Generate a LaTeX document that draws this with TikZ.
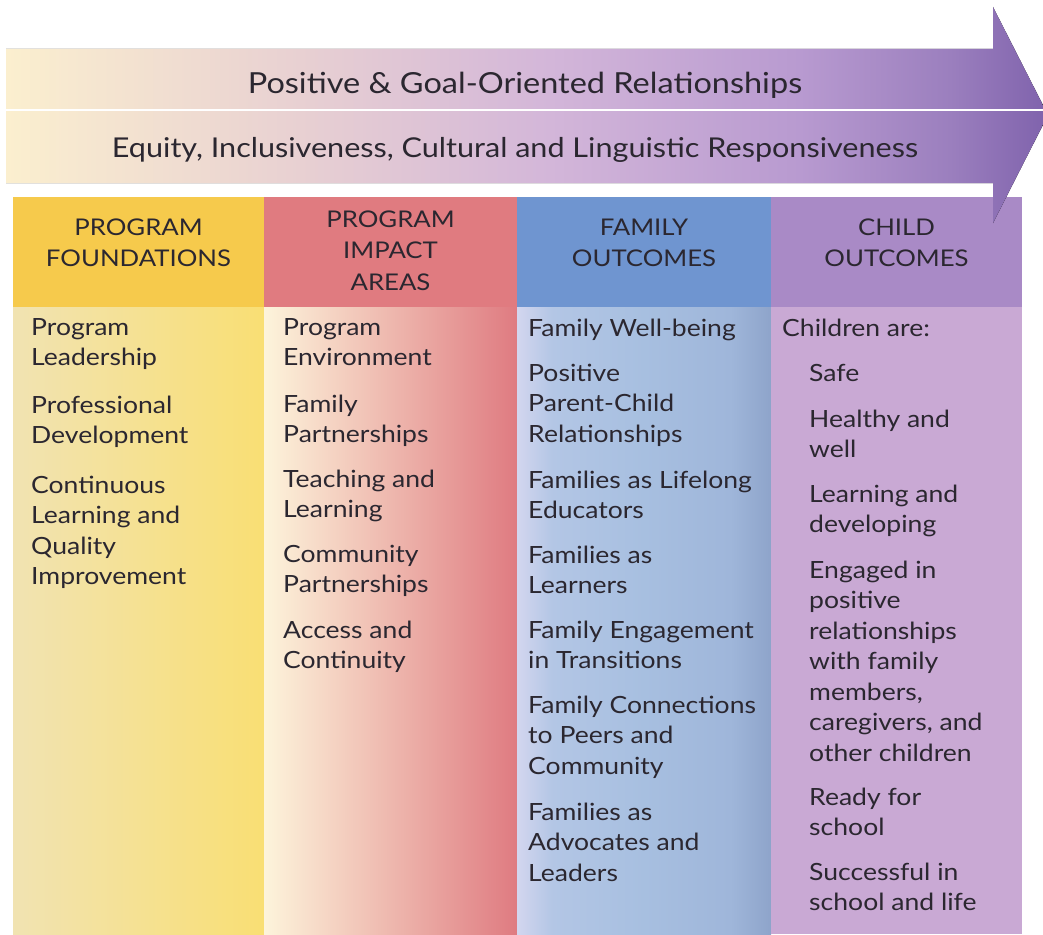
\documentclass[tikz,border=0pt]{standalone}
\usepackage{fontspec}
\setmainfont{Lato}[FakeStretch=1.12]

\definecolor{inkdark}{HTML}{2B2730}
\definecolor{arrowA}{HTML}{FBEFCF}
\definecolor{arrowB}{HTML}{E8D0D2}
\definecolor{arrowC}{HTML}{D3B6D9}
\definecolor{arrowD}{HTML}{B89AD0}
\definecolor{arrowE}{HTML}{9B7FBE}
\definecolor{arrowF}{HTML}{7F62AC}
\definecolor{headgold}{HTML}{F6CA4C}
\definecolor{headrose}{HTML}{E07B80}
\definecolor{headblue}{HTML}{6F95D0}
\definecolor{headlilac}{HTML}{A98AC6}
\definecolor{goldL}{HTML}{F1E3B2}
\definecolor{goldR}{HTML}{F9DF74}
\definecolor{roseL}{HTML}{FDF4DB}
\definecolor{roseM}{HTML}{EFC0B2}
\definecolor{roseR}{HTML}{DF7B81}
\definecolor{blueA}{HTML}{D3D6EF}
\definecolor{blueB}{HTML}{B3C6E5}
\definecolor{blueC}{HTML}{A7BFE0}
\definecolor{blueD}{HTML}{9FB6DA}
\definecolor{blueE}{HTML}{8EA4CA}
\definecolor{bodylilac}{HTML}{C9A9D4}

\pgfdeclarehorizontalshading{arrowfade}{100bp}{color(0bp)=(arrowA); color(25bp)=(arrowA);
  color(39.1bp)=(arrowB); color(51.1bp)=(arrowC); color(63.1bp)=(arrowD);
  color(70.3bp)=(arrowE); color(75bp)=(arrowF); color(100bp)=(arrowF)}
\pgfdeclarehorizontalshading{bluefade}{100bp}{color(0bp)=(blueA); color(25bp)=(blueA);
  color(32bp)=(blueB); color(50bp)=(blueC); color(67bp)=(blueD);
  color(75bp)=(blueE); color(100bp)=(blueE)}

\begin{document}
\begin{tikzpicture}
[
  x=1pt, y=-1pt,
  every node/.style={inner sep=0pt, text=inkdark},
  bandtext/.style={font=\fontsize{#1}{#1}\selectfont, anchor=base},
  head/.style={font=\fontsize{23}{31.5}\selectfont, align=center, anchor=north, yshift=22.05pt},
  item/.style={font=\fontsize{23.7}{30.5}\selectfont, align=left, anchor=north west, yshift=21.35pt},
]
\useasboundingbox (0,0) rectangle (1043,934);

% header cells
\foreach \xa/\xb/\hc in {13/264/headgold, 264/517/headrose, 517/771/headblue, 771/1022/headlilac}
  \fill[\hc] (\xa,197) rectangle (\xb,307);

% column bodies
\fill[left color=goldL, right color=goldR] (13,307) rectangle (264,934);
\fill[left color=roseL, middle color=roseM, right color=roseR] (264,307) rectangle (517,934);
\fill[shading=bluefade] (517,307) rectangle (771,934);
\fill[bodylilac] (771,307) rectangle (1022,934);

% the arrow
\fill[shading=arrowfade] (6,49) -- (993,49) -- (993,7) -- (1048,115)
  -- (993,223) -- (993,183) -- (6,183) -- cycle;
\draw[white, line width=2.5pt] (6,110) -- (1043,110);

\node[bandtext=29] (goal) at (525,93) {Positive \& Goal-Oriented Relationships};
\node[bandtext=27.3] (equity) at (515,157) {Equity, Inclusiveness, Cultural and Linguistic Responsiveness};

% headers
\node[head] (hd1) at (138.5,235) {\strut PROGRAM\\FOUNDATIONS};
\node[head] (hd2) at (390.5,227) {\strut PROGRAM\\IMPACT\\AREAS};
\node[head] (hd3) at (644,235) {\strut FAMILY\\OUTCOMES};
\node[head] (hd4) at (896.5,235) {\strut CHILD\\OUTCOMES};

% program foundations
\foreach \y/\txt [count=\i] in {335/{Program\\Leadership}, 413/{Professional\\Development},
  493/{Continuous\\Learning and\\Quality\\Improvement}}
  \node[item] (pf\i) at (31,\y) {\strut\txt};

% program impact areas
\foreach \y/\txt [count=\i] in {335/{Program\\Environment}, 412/{Family\\Partnerships},
  487/{Teaching and\\Learning}, 562/{Community\\Partnerships}, 638/{Access and\\Continuity}}
  \node[item] (pi\i) at (283,\y) {\strut\txt};

% family outcomes
\foreach \y/\txt [count=\i] in {336/{Family Well-being}, 381/{Positive\\Parent-Child\\Relationships},
  488/{Families as Lifelong\\Educators}, 563/{Families as\\Learners},
  638/{Family Engagement\\in Transitions}, 713/{Family Connections\\to Peers and\\Community},
  820/{Families as\\Advocates and\\Leaders}}
  \node[item] (fo\i) at (528,\y) {\strut\txt};

% child outcomes
\node[item] (co0) at (782,336) {\strut Children are:};
\foreach \y/\txt [count=\i] in {381/{Safe}, 427/{Healthy and\\well}, 502/{Learning and\\developing},
  578/{Engaged in\\positive\\relationships\\with family\\members,\\caregivers, and\\other children},
  805/{Ready for\\school}, 880/{Successful in\\school and life}}
  \node[item] (co\i) at (809,\y) {\strut\txt};

\end{tikzpicture}
\end{document}
